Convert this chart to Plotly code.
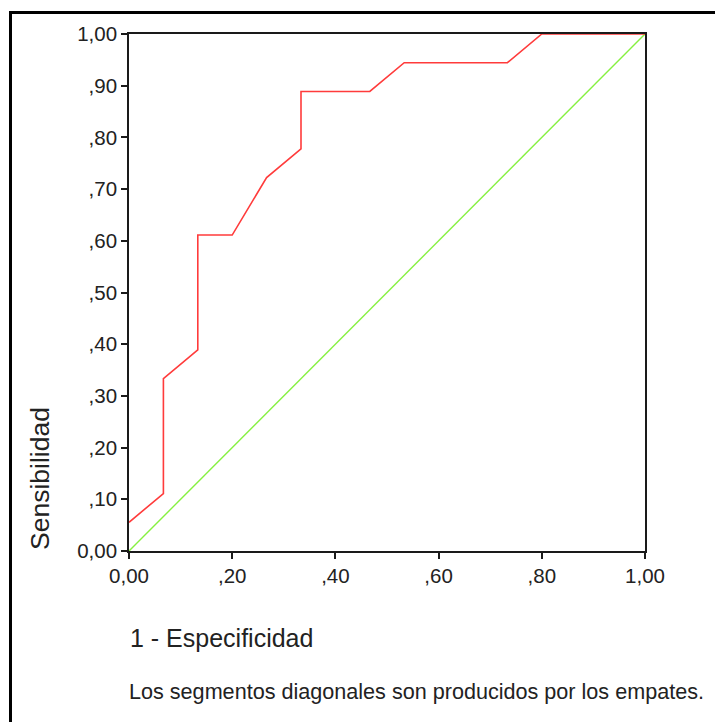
import plotly.graph_objects as go

# ROC curve: 1 - specificity (x) vs. sensitivity (y)
fpr = [0.0, 1/15, 1/15, 2/15, 2/15, 3/15, 4/15, 5/15, 5/15, 7/15, 8/15, 11/15, 12/15, 1.0]
tpr = [1/18, 2/18, 6/18, 7/18, 11/18, 11/18, 13/18, 14/18, 16/18, 16/18, 17/18, 17/18, 1.0, 1.0]

# Reference (chance) line
ref_x = [0.0, 1.0]
ref_y = [0.0, 1.0]

tick_vals = [0.0, 0.1, 0.2, 0.3, 0.4, 0.5, 0.6, 0.7, 0.8, 0.9, 1.0]
y_tick_text = ["0,00", ",10", ",20", ",30", ",40", ",50", ",60", ",70", ",80", ",90", "1,00"]
x_tick_vals = [0.0, 0.2, 0.4, 0.6, 0.8, 1.0]
x_tick_text = ["0,00", ",20", ",40", ",60", ",80", "1,00"]

W, H = 715, 722
L, T, R, B = 129, 34, 70, 171
pw, ph = W - L - R, H - T - B


def px(x):
    return (x - L) / pw


def py(y):
    return (H - B - y) / ph


FONT = "Liberation Sans, Arial, sans-serif"

fig = go.Figure()
fig.add_trace(go.Scatter(x=ref_x, y=ref_y, mode="lines",
                         line=dict(color="#86f040", width=1.4),
                         cliponaxis=False, showlegend=False))
fig.add_trace(go.Scatter(x=fpr, y=tpr, mode="lines",
                         line=dict(color="#ff3b3b", width=1.6),
                         cliponaxis=False, showlegend=False))

axis_common = dict(
    range=[0, 1], showgrid=False, zeroline=False,
    showline=True, mirror=True, linecolor="#1a1a1a", linewidth=1.6,
    ticks="outside", ticklen=6, tickwidth=1.5, tickcolor="#1a1a1a",
    tickfont=dict(family=FONT, size=20.5, color="#222222"),
    layer="below traces", fixedrange=True,
)

fig.update_xaxes(tickvals=x_tick_vals, ticktext=x_tick_text, **axis_common)
fig.update_yaxes(tickvals=tick_vals, ticktext=y_tick_text, **axis_common)

fig.update_layout(
    width=W, height=H,
    margin=dict(l=L, r=R, t=T, b=B, pad=0),
    paper_bgcolor="white", plot_bgcolor="white",
    shapes=[
        # outer chart frame (left and top edges)
        dict(type="line", xref="paper", yref="paper",
             x0=px(10.5), x1=px(10.5), y0=py(H + 20), y1=py(11),
             line=dict(color="black", width=3)),
        dict(type="line", xref="paper", yref="paper",
             x0=px(9), x1=px(W + 20), y0=py(12.5), y1=py(12.5),
             line=dict(color="black", width=3)),
    ],
    annotations=[
        dict(text="Sensibilidad", xref="paper", yref="paper",
             x=px(40), y=py(479), xanchor="center", yanchor="middle",
             textangle=-90, showarrow=False,
             font=dict(family=FONT, size=26.5, color="#222222")),
        dict(text="1 - Especificidad", xref="paper", yref="paper",
             x=px(128), y=py(638), xanchor="left", yanchor="middle",
             showarrow=False,
             font=dict(family=FONT, size=25, color="#222222")),
        dict(text="Los segmentos diagonales son producidos por los empates.",
             xref="paper", yref="paper",
             x=px(127), y=py(691), xanchor="left", yanchor="middle",
             showarrow=False,
             font=dict(family=FONT, size=21.6, color="#222222")),
    ],
)

fig.write_html("out.html")
